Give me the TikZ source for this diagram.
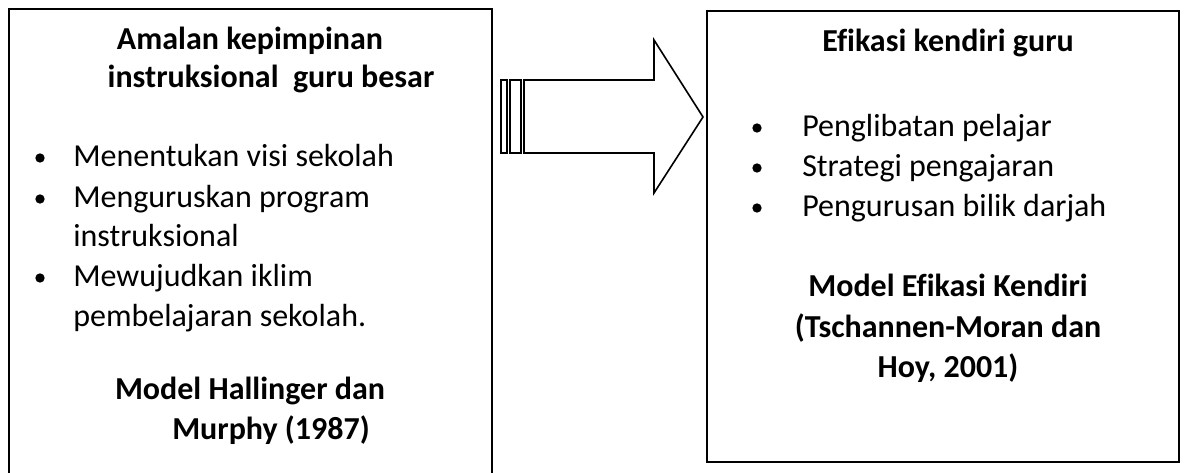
\documentclass[tikz,border=0pt]{standalone}
\usepackage{fontspec}
\setmainfont{Carlito}[Ligatures=NoCommon]

\tikzset{
	kotak/.style={draw, line width=1.7pt},
	teks/.style={inner sep=0pt, font=\fontsize{24}{28}\selectfont},
	judul/.style={teks, anchor=base, font=\fontsize{24}{28}\selectfont\bfseries},
	butir/.style={teks, anchor=base west},
	titik/.style={circle, fill, inner sep=0pt, minimum size=7pt},
	panah/.style={draw, line width=1.2pt, line join=miter}
}

\begin{document}
\begin{tikzpicture}[x=0.75pt,y=-0.75pt]
		\useasboundingbox (0,0) rectangle (1184,473);

		% kotak kiri dan kanan
		\draw[kotak] (9,480) -- (9,9) -- (492,9) -- (492,480);
		\draw[kotak] (707,11) rectangle (1179,462);

		% anak panah
		\draw[panah] (501,80) rectangle (507,153);
		\draw[panah] (510,80) rectangle (521,153);
		\draw[panah] (524,80) -- (654,80) -- (654,40) -- (703,117)
			-- (654,193) -- (654,153) -- (524,153) -- cycle;

		% teks kotak kiri
		\node[judul] (amalan) at (250,50) {Amalan kepimpinan};
		\node[judul] (instruksional) at (271,88) {instruksional\ \ guru besar};

		\foreach \y\isi in {167/Menentukan visi sekolah, 208/Menguruskan program, 287/Mewujudkan iklim}
		{
			\node[titik] at (40,\y-9) {};
			\node[butir] at (73,\y) {\isi};
		}
		\node[butir] at (73,247) {instruksional};
		\node[butir] at (73,327) {pembelajaran sekolah.};

		\node[judul] (hallinger) at (250,400) {Model Hallinger dan};
		\node[judul] (murphy) at (271,440) {Murphy (1987)};

		% teks kotak kanan
		\node[judul] (efikasi) at (948,52) {Efikasi kendiri guru};

		\foreach \y\isi in {137/Penglibatan pelajar, 177/Strategi pengajaran, 217/Pengurusan bilik darjah}
		{
			\node[titik] at (757,\y-9) {};
			\node[butir] at (802,\y) {\isi};
		}

		\node[judul] (model) at (948,297) {Model Efikasi Kendiri};
		\node[judul] (tschannen) at (948,338) {(Tschannen-Moran dan};
		\node[judul] (hoy) at (948,378) {Hoy, 2001)};

	\end{tikzpicture}
\end{document}
